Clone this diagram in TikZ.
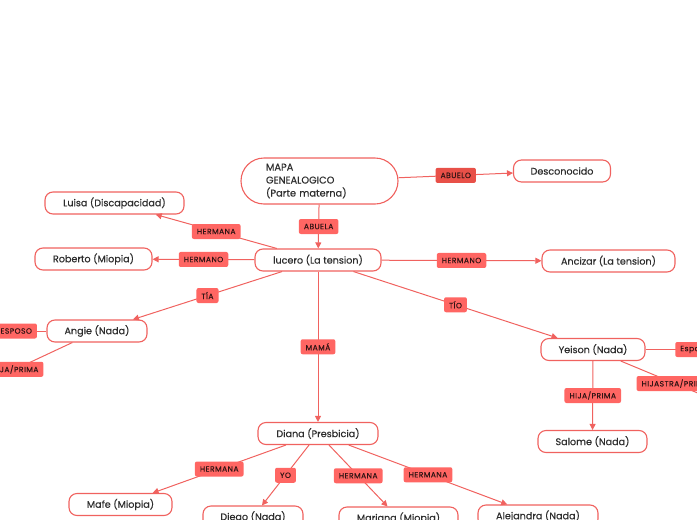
\documentclass[tikz,border=0pt]{standalone}
\usepackage{fontspec}
\setmainfont{Poppins}[FakeBold=0.35,BoldFont=Poppins,BoldFeatures={FakeBold=0.35}]
\newfontfamily\lblfont[LetterSpace=6,FakeBold=0.3]{Poppins}
\usetikzlibrary{arrows.meta}
\definecolor{lred}{RGB}{240,98,95}
\definecolor{lfill}{RGB}{255,102,99}
\definecolor{dfill}{RGB}{232,80,72}
\definecolor{txt}{RGB}{45,45,45}
\definecolor{ltxt}{RGB}{50,20,20}
\tikzset{
  person/.style={draw=lred, line width=1.1pt, rounded corners=8pt, fill=white,
    minimum height=22pt, inner sep=0pt, text=txt, font=\fontsize{9.6}{11}\selectfont},
  rel/.style={fill=lfill, rounded corners=2pt, inner xsep=5pt, inner ysep=0pt,
    minimum height=15pt, text=ltxt, font=\lblfont\fontsize{7.6}{8}\selectfont},
  conn/.style={draw=lred, line width=1pt},
  arr/.style={conn, -{Triangle[length=6pt,width=6pt]}}
}
\begin{document}
\begin{tikzpicture}[x=1pt,y=-1pt]
\useasboundingbox (0,0) rectangle (697,520);
\clip (0,0) rectangle (697,520);
% nodes
\node[person, rounded corners=23pt, minimum width=157pt, minimum height=46pt,
  text width=107pt, inner xsep=25pt, align=left, font=\fontsize{9.8}{13}\selectfont]
  (mapa) at (319.5,181) {MAPA\\GENEALOGICO\\(Parte materna)};
\node[person, minimum width=97pt] (desc) at (562,171) {Desconocido};
\node[person, minimum width=126pt] (lucero) at (318,260) {lucero (La tension)};
\node[person, minimum width=139pt] (luisa) at (114.5,203) {Luisa (Discapacidad)};
\node[person, minimum width=117pt] (roberto) at (93.5,259) {Roberto (Miopia)};
\node[person, minimum width=133pt] (ancizar) at (608.5,261) {Ancizar (La tension)};
\node[person, minimum width=100pt] (angie) at (97,331) {Angie (Nada)};
\node[person, minimum width=104pt] (yeison) at (593,349.5) {Yeison (Nada)};
\node[person, minimum width=109pt] (salome) at (592.5,441.5) {Salome (Nada)};
\node[person, minimum width=120pt] (diana) at (318,433.5) {Diana (Presbicia)};
\node[person, minimum width=103pt] (mafe) at (120.5,504.5) {Mafe (Miopia)};
\node[person, minimum width=100pt] (diego) at (253,517) {Diego (Nada)};
\node[person, minimum width=119pt] (mariana) at (398.5,518) {Mariana (Miopia)};
\node[person, minimum width=120pt] (alejandra) at (538,516) {Alejandra (Nada)};
\coordinate (angsp) at (-14,331);
\coordinate (angch) at (-42,396);
\coordinate (yesp) at (744,349.5);
\coordinate (yech) at (729,406);
% connectors
\draw[arr] (mapa) -- node[rel, fill=dfill] {ABUELO} (desc);
\draw[arr] (mapa) -- node[rel] {ABUELA} (lucero);
\draw[arr] (lucero) -- node[rel] {HERMANA} (luisa);
\draw[arr] (lucero) -- node[rel] {HERMANO} (roberto);
\draw[arr] (lucero) -- node[rel] {HERMANO} (ancizar);
\draw[arr] (lucero) -- node[rel] {TÍA} (angie);
\draw[arr] (lucero) -- node[rel] {TÍO} (yeison);
\draw[arr] (lucero) -- node[rel] {MAMÁ} (diana);
\draw[conn] (angie) -- node[rel] {ESPOSO} (angsp);
\draw[conn] (angie) -- node[rel] {HIJA/PRIMA} (angch);
\draw[conn] (yeison) -- node[rel] {Esposo} (yesp);
\draw[conn] (yeison) -- node[rel] {HIJASTRA/PRIMA} (yech);
\draw[arr] (yeison) -- node[rel] {HIJA/PRIMA} (salome);
\draw[arr] (diana) -- node[rel] {HERMANA} (mafe);
\draw[arr] (diana) -- node[rel] {YO} (diego);
\draw[arr] (diana) -- node[rel] {HERMANA} (mariana);
\draw[arr] (diana) -- node[rel] {HERMANA} (alejandra);
\end{tikzpicture}
\end{document}
